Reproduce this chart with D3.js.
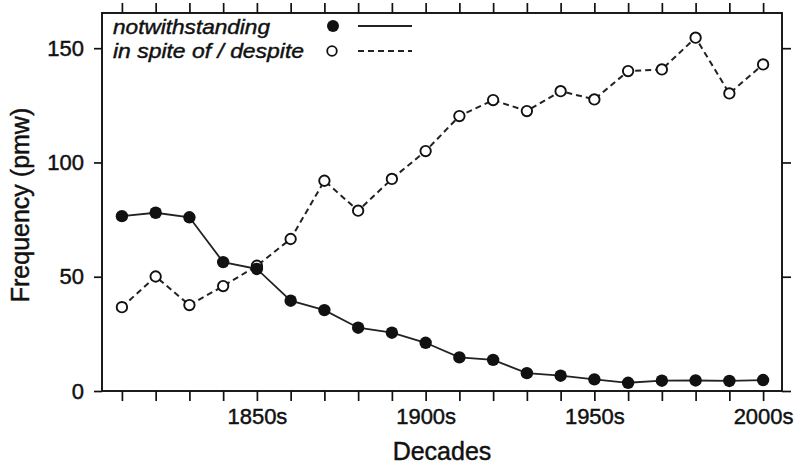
<!DOCTYPE html>
<html>
<head>
<meta charset="utf-8">
<script src="https://cdn.jsdelivr.net/npm/d3@7"></script>
<style>
  html, body { margin: 0; padding: 0; background: #fff; }
  svg { display: block; }
  text { font-family: "Liberation Sans", Arial, Helvetica, sans-serif; fill: #111; stroke: #111; stroke-width: 0.45px; }
</style>
</head>
<body>
<svg id="chart" width="802" height="466"></svg>
<script>
// ---- data ----
const decades = [1810, 1820, 1830, 1840, 1850, 1860, 1870, 1880, 1890, 1900,
                 1910, 1920, 1930, 1940, 1950, 1960, 1970, 1980, 1990, 2000];
const notwithstanding = [76.5, 78, 76, 56.4, 53.4, 39.5, 35.4, 27.7, 25.5, 21.1,
                         14.7, 13.6, 7.8, 6.7, 5.1, 3.6, 4.5, 4.6, 4.4, 4.8];
const despite = [36.7, 50.1, 37.6, 45.9, 54.8, 66.5, 92, 78.9, 92.8, 105,
                 120.3, 127.3, 122.5, 131.2, 127.6, 140, 140.7, 154.6, 130.2, 142.9];
const xTickLabels = {1850: "1850s", 1900: "1900s", 1950: "1950s", 2000: "2000s"};
const yTicks = [0, 50, 100, 150];
const seriesNames = ["notwithstanding", "in spite of / despite"];
const axisTitles = {x: "Decades", y: "Frequency (pmw)"};

// ---- layout ----
const box = {left: 102, right: 782, top: 13, bottom: 391};
const svg = d3.select("#chart");

const x = d3.scaleLinear().domain([1804.1, 2005.6]).range([box.left, box.right]);
const y = d3.scaleLinear().domain([0, 165.4]).range([box.bottom, box.top]);

function styleAxis(g) {
  g.select(".domain").remove();
  g.selectAll(".tick line").attr("stroke", "#111").attr("stroke-width", 1.7);
  g.selectAll(".tick text").attr("font-size", 22).attr("fill", "#111")
    .style("font-family", '"Liberation Sans", Arial, Helvetica, sans-serif');
}

// bottom axis
svg.append("g").attr("transform", `translate(0,${box.bottom})`)
  .call(d3.axisBottom(x).tickValues(decades).tickSize(10).tickPadding(7)
    .tickFormat(d => xTickLabels[d] || ""))
  .call(styleAxis);
// top axis (ticks only)
svg.append("g").attr("transform", `translate(0,${box.top})`)
  .call(d3.axisTop(x).tickValues(decades).tickSize(10).tickFormat(""))
  .call(styleAxis);
// left axis
svg.append("g").attr("transform", `translate(${box.left},0)`)
  .call(d3.axisLeft(y).tickValues(yTicks).tickSize(8).tickPadding(10).tickFormat(d3.format("d")))
  .call(styleAxis);
// right axis (ticks only)
svg.append("g").attr("transform", `translate(${box.right},0)`)
  .call(d3.axisRight(y).tickValues(yTicks).tickSize(9).tickFormat(""))
  .call(styleAxis);

// frame
svg.append("rect")
  .attr("x", box.left).attr("y", box.top)
  .attr("width", box.right - box.left).attr("height", box.bottom - box.top)
  .attr("fill", "none").attr("stroke", "#111").attr("stroke-width", 1.9);

// axis titles
svg.append("text").attr("x", (box.left + box.right) / 2).attr("y", 460)
  .attr("text-anchor", "middle").attr("font-size", 25).text(axisTitles.x);
svg.append("text").attr("transform", "translate(29,205) rotate(-90)")
  .attr("text-anchor", "middle").attr("font-size", 25).text(axisTitles.y);

// lines
const line = d3.line().x(d => x(d[0])).y(d => y(d[1]));
const dataN = decades.map((d, i) => [d, notwithstanding[i]]);
const dataD = decades.map((d, i) => [d, despite[i]]);

svg.append("path").datum(dataD).attr("d", line)
  .attr("fill", "none").attr("stroke", "#222").attr("stroke-width", 2)
  .attr("stroke-dasharray", "6,4");
svg.append("path").datum(dataN).attr("d", line)
  .attr("fill", "none").attr("stroke", "#222").attr("stroke-width", 1.8);

svg.append("g").selectAll("circle").data(dataD).join("circle")
  .attr("cx", d => x(d[0])).attr("cy", d => y(d[1])).attr("r", 5.2)
  .attr("fill", "#fff").attr("stroke", "#111").attr("stroke-width", 1.9);
svg.append("g").selectAll("circle").data(dataN).join("circle")
  .attr("cx", d => x(d[0])).attr("cy", d => y(d[1])).attr("r", 6.2)
  .attr("fill", "#111");

// legend
const legend = svg.append("g");
legend.append("text").attr("x", 113).attr("y", 34).attr("font-size", 21)
  .attr("font-style", "italic").attr("textLength", 157).attr("lengthAdjust", "spacingAndGlyphs")
  .text(seriesNames[0]);
legend.append("text").attr("x", 113).attr("y", 58).attr("font-size", 21)
  .attr("font-style", "italic").attr("textLength", 191).attr("lengthAdjust", "spacingAndGlyphs")
  .text(seriesNames[1]);
legend.append("circle").attr("cx", 333).attr("cy", 26).attr("r", 6).attr("fill", "#111");
legend.append("circle").attr("cx", 332).attr("cy", 51).attr("r", 4.8)
  .attr("fill", "#fff").attr("stroke", "#111").attr("stroke-width", 1.8);
legend.append("line").attr("x1", 358).attr("x2", 412).attr("y1", 26).attr("y2", 26)
  .attr("stroke", "#222").attr("stroke-width", 1.8);
legend.append("line").attr("x1", 358).attr("x2", 412).attr("y1", 51).attr("y2", 51)
  .attr("stroke", "#222").attr("stroke-width", 2).attr("stroke-dasharray", "6,4");
</script>
</body>
</html>
